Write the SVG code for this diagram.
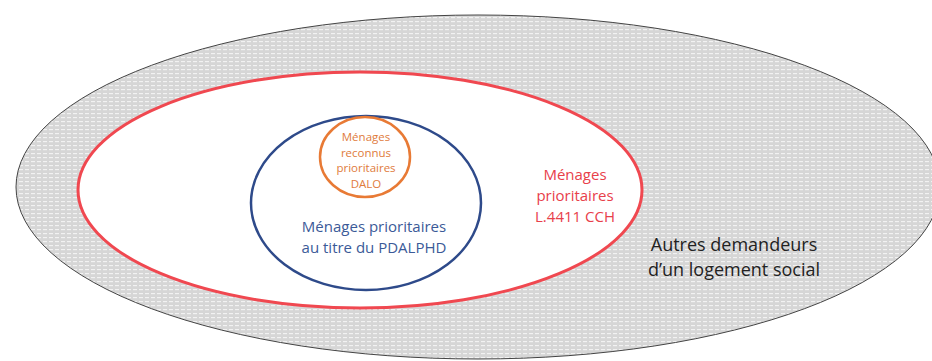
<svg xmlns="http://www.w3.org/2000/svg" width="932" height="361" viewBox="0 0 932 361">
<style>
text{font-family:"Open Sans","Liberation Sans",sans-serif;text-anchor:middle}
.dalo{fill:#e07b3c;font-size:11.5px}
.pdal{fill:#3b5a98;font-size:15px}
.cch{fill:#e8404a;font-size:15px}
.aut{fill:#222;font-size:18px}
</style>
<defs>
<pattern id="mesh" width="6" height="4" patternUnits="userSpaceOnUse">
<rect width="6" height="4" fill="#d6d6d6"/>
<rect x="1" y="1" width="4" height="1.2" fill="#f2f2f2"/>
</pattern>
</defs>
<g id="autres">
<ellipse cx="478" cy="187" rx="462" ry="172" fill="url(#mesh)" stroke="#444" stroke-width="1"/>
<text class="aut" x="734" y="251">Autres demandeurs</text>
<text class="aut" x="734" y="276">d’un logement social</text>
</g>
<g id="cch">
<ellipse cx="360" cy="190" rx="282" ry="118" fill="#fff" stroke="#f04850" stroke-width="3"/>
<text class="cch" x="575" y="180">Ménages</text>
<text class="cch" x="575" y="201">prioritaires</text>
<text class="cch" x="575" y="222">L.4411 CCH</text>
</g>
<g id="pdalphd">
<ellipse cx="366" cy="203" rx="115" ry="87" fill="#fff" stroke="#2e4a8a" stroke-width="2.5"/>
<text class="pdal" x="374" y="232">Ménages prioritaires</text>
<text class="pdal" x="374" y="253">au titre du PDALPHD</text>
</g>
<g id="dalo">
<ellipse cx="365" cy="157" rx="45" ry="40" fill="#fff" stroke="#e87a35" stroke-width="2.5"/>
<text class="dalo" x="366" y="141">Ménages</text>
<text class="dalo" x="366" y="156.5">reconnus</text>
<text class="dalo" x="366" y="172">prioritaires</text>
<text class="dalo" x="366" y="187.5">DALO</text>
</g>
<g id="connectors"/>
</svg>
